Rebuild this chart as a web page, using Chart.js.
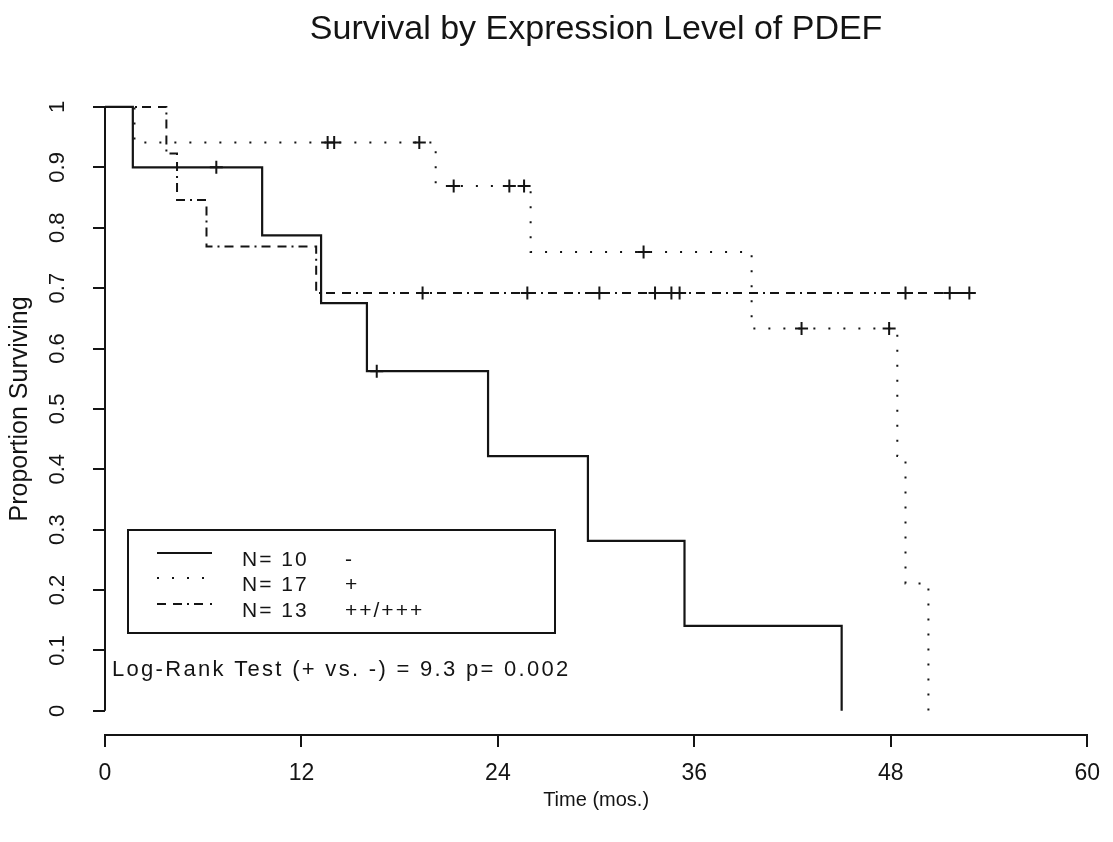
<!DOCTYPE html>
<html>
<head>
<meta charset="utf-8">
<script src="https://cdn.jsdelivr.net/npm/chart.js@4"></script>
<style>
  html, body { margin: 0; padding: 0; background: #fff; }
  #wrap { width: 1113px; height: 842px; }
</style>
</head>
<body>
<div id="wrap"><canvas id="myChart" width="1113" height="842"></canvas></div>
<script>
// Kaplan-Meier steps (time in months, proportion surviving)
var lowTimes = [0, 1.7, 9.6, 13.2, 16.0, 23.4, 29.5, 35.4, 45.0];
var lowSurv = [1, 0.9, 0.7875, 0.675, 0.5625, 0.4219, 0.2813, 0.1406, 0];
var lowCensorTimes = [6.8, 16.6];
var lowCensorSurv = [0.9, 0.5625];

var midTimes = [0, 1.8, 20.2, 26.0, 39.5, 48.4, 48.9, 50.3];
var midSurv = [1, 0.941, 0.869, 0.76, 0.633, 0.422, 0.211, 0];
var midCensorTimes = [13.6, 14.0, 19.2, 21.3, 24.7, 25.6, 32.9, 42.55, 47.9];
var midCensorSurv = [0.941, 0.941, 0.941, 0.869, 0.869, 0.869, 0.76, 0.633, 0.633];

var highTimes = [0, 3.75, 4.4, 6.2, 12.9, 52.8];
var highSurv = [1, 0.923, 0.846, 0.769, 0.692, 0.692];
var highCensorTimes = [19.4, 25.8, 30.2, 33.6, 34.6, 35.1, 48.9, 51.6, 52.8];
var highCensorSurv = [0.692, 0.692, 0.692, 0.692, 0.692, 0.692, 0.692, 0.692, 0.692];

// legend entries
var groupN = [10, 17, 13];
var groupLabel = ['-', '+', '++/+++'];
var logRankText = 'Log-Rank Test (+ vs. -) = 9.3 p= 0.002';

// axis ticks
var xTickValues = [0, 12, 24, 36, 48, 60];
var xTickLabels = ['0', '12', '24', '36', '48', '60'];
var yTickValues = [0, 0.1, 0.2, 0.3, 0.4, 0.5, 0.6, 0.7, 0.8, 0.9, 1];
var yTickLabels = ['0', '0.1', '0.2', '0.3', '0.4', '0.5', '0.6', '0.7', '0.8', '0.9', '1'];

var INK = '#141414';
var FONT = '"Liberation Sans", Arial, sans-serif';
var dotDash = [2, 13];
var dashDotDash = [9, 7, 9, 5, 2, 5];

function pts(xs, ys) {
    return xs.map(function (x, i) { return { x: x, y: ys[i] }; });
}

function curve(xs, ys, dash, width) {
    return {
        data: pts(xs, ys),
        stepped: true,
        borderColor: INK,
        borderWidth: width,
        borderDash: dash,
        borderCapStyle: 'butt',
        pointRadius: 0,
        fill: false,
        clip: false
    };
}

function censors(xs, ys) {
    return {
        data: pts(xs, ys),
        showLine: false,
        pointStyle: 'cross',
        pointRadius: 6.5,
        pointBorderWidth: 2,
        pointBorderColor: INK,
        clip: false
    };
}

// y axis line only between 0 and 1, legend box and test text
var extras = {
    id: 'extras',
    afterDraw: function (chart) {
        var ctx = chart.ctx;
        var y = chart.scales.y;
        var left = chart.chartArea.left;
        ctx.save();
        ctx.strokeStyle = INK;
        ctx.lineWidth = 2;
        ctx.beginPath();
        ctx.moveTo(left, y.getPixelForValue(0));
        ctx.lineTo(left, y.getPixelForValue(1));
        ctx.stroke();

        // legend box
        ctx.strokeRect(128, 530, 427, 103);
        var rows = [553, 578, 604];
        var dashes = [[], dotDash, dashDotDash];
        var widths = [2.2, 2, 2];
        for (var i = 0; i < rows.length; i++) {
            ctx.setLineDash(dashes[i]);
            ctx.lineWidth = widths[i];
            ctx.beginPath();
            ctx.moveTo(157, rows[i]);
            ctx.lineTo(212, rows[i]);
            ctx.stroke();
        }
        ctx.setLineDash([]);
        ctx.fillStyle = INK;
        ctx.font = '21px ' + FONT;
        ctx.textBaseline = 'middle';
        if ('letterSpacing' in ctx) ctx.letterSpacing = '2px';
        var textRows = [560, 585, 611];
        for (var j = 0; j < textRows.length; j++) {
            ctx.fillText('N= ' + groupN[j], 242, textRows[j]);
            ctx.fillText(groupLabel[j], 345, textRows[j]);
        }
        ctx.font = '22px ' + FONT;
        if ('letterSpacing' in ctx) ctx.letterSpacing = '2.3px';
        ctx.fillText(logRankText, 112, 670);
        ctx.restore();
    }
};

var ctx = document.getElementById('myChart').getContext('2d');

var myChart = new Chart(ctx, {
    type: 'line',
    data: {
        datasets: [
            curve(lowTimes, lowSurv, [], 2.2),
            curve(midTimes, midSurv, dotDash, 2),
            curve(highTimes, highSurv, dashDotDash, 2),
            censors(lowCensorTimes, lowCensorSurv),
            censors(midCensorTimes, midCensorSurv),
            censors(highCensorTimes, highCensorSurv)
        ]
    },
    options: {
        responsive: false,
        animation: false,
        layout: { padding: { left: 0, right: 20, top: 0, bottom: 0 } },
        plugins: {
            legend: { display: false },
            tooltip: { enabled: false },
            title: {
                display: true,
                fullSize: false,
                text: 'Survival by Expression Level of PDEF',
                color: INK,
                font: { family: FONT, size: 34, weight: 'normal' },
                padding: { top: 9, bottom: 33 }
            }
        },
        scales: {
            x: {
                type: 'linear',
                min: 0,
                max: 60,
                afterBuildTicks: function (scale) {
                    scale.ticks = xTickValues.map(function (v) { return { value: v }; });
                },
                afterFit: function (scale) { scale.height = 107; },
                ticks: {
                    autoSkip: false,
                    maxRotation: 0,
                    padding: 13,
                    color: INK,
                    font: { family: FONT, size: 23 },
                    callback: function (value, index) { return xTickLabels[index]; }
                },
                grid: { drawOnChartArea: false, drawTicks: true, tickLength: 12, tickColor: INK, tickWidth: 2, lineWidth: 2 },
                border: { display: true, color: INK, width: 2 },
                title: {
                    display: true,
                    text: 'Time (mos.)',
                    color: INK,
                    font: { family: FONT, size: 20 },
                    padding: { top: 0, bottom: 30 }
                }
            },
            y: {
                type: 'linear',
                min: -0.04,
                max: 1.04,
                afterBuildTicks: function (scale) {
                    scale.ticks = yTickValues.map(function (v) { return { value: v }; });
                },
                afterFit: function (scale) { scale.width = 105; },
                ticks: {
                    autoSkip: false,
                    minRotation: 90,
                    maxRotation: 90,
                    crossAlign: 'center',
                    padding: 20,
                    color: INK,
                    font: { family: FONT, size: 22 },
                    callback: function (value, index) { return yTickLabels[index]; }
                },
                grid: { drawOnChartArea: false, drawTicks: true, tickLength: 12, tickColor: INK, tickWidth: 2, lineWidth: 2 },
                border: { display: false },
                title: {
                    display: true,
                    text: 'Proportion Surviving',
                    color: INK,
                    font: { family: FONT, size: 25 },
                    padding: { top: 5, bottom: 0 }
                }
            }
        }
    },
    plugins: [extras]
});
</script>
</body>
</html>
